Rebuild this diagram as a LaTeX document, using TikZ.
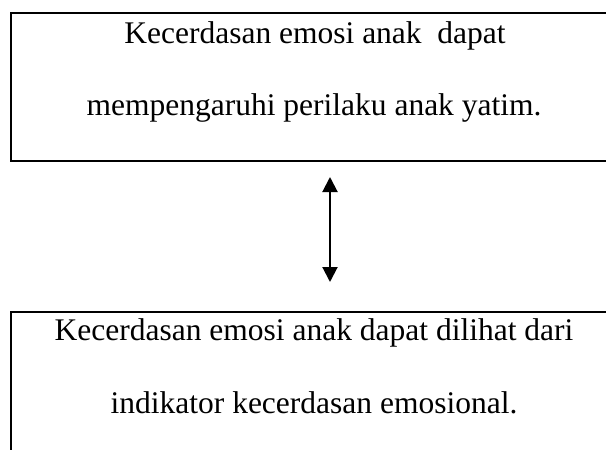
\documentclass[tikz,border=0pt]{standalone}
\usepackage{fontspec}
\setmainfont{Liberation Serif}
\usetikzlibrary{arrows.meta, positioning}
\tikzset{
  kotak/.style={draw, line width=2pt, outer sep=0pt, inner sep=0pt, anchor=north west},
  teks/.style={anchor=base, inner sep=0pt, font=\fontsize{31.5}{31.5}\selectfont},
}

\begin{document}
\begin{tikzpicture}[x=1pt, y=-1pt]
\useasboundingbox (0,0) rectangle (606,450);

\node[kotak, minimum width=640pt, minimum height=148pt] (atas) at (11,13) {};
\node[kotak, minimum width=640pt, minimum height=200pt] (bawah) at (11,312) {};

\node[teks] (atas1) at (315,43) {Kecerdasan emosi anak\ \ dapat};
\node[teks] (atas2) at (314,115) {mempengaruhi perilaku anak yatim.};
\node[teks] (bawah1) at (314,340) {Kecerdasan emosi anak dapat dilihat dari};
\node[teks] (bawah2) at (314,413) {indikator kecerdasan emosional.};

\coordinate (panah) at (330,0);
\draw[line width=2pt, {Triangle[length=15pt, width=15pt]}-{Triangle[length=15pt, width=15pt]}]
  ([yshift=-16pt]atas.south -| panah) -- ([yshift=30pt]bawah.north -| panah);
\end{tikzpicture}
\end{document}
